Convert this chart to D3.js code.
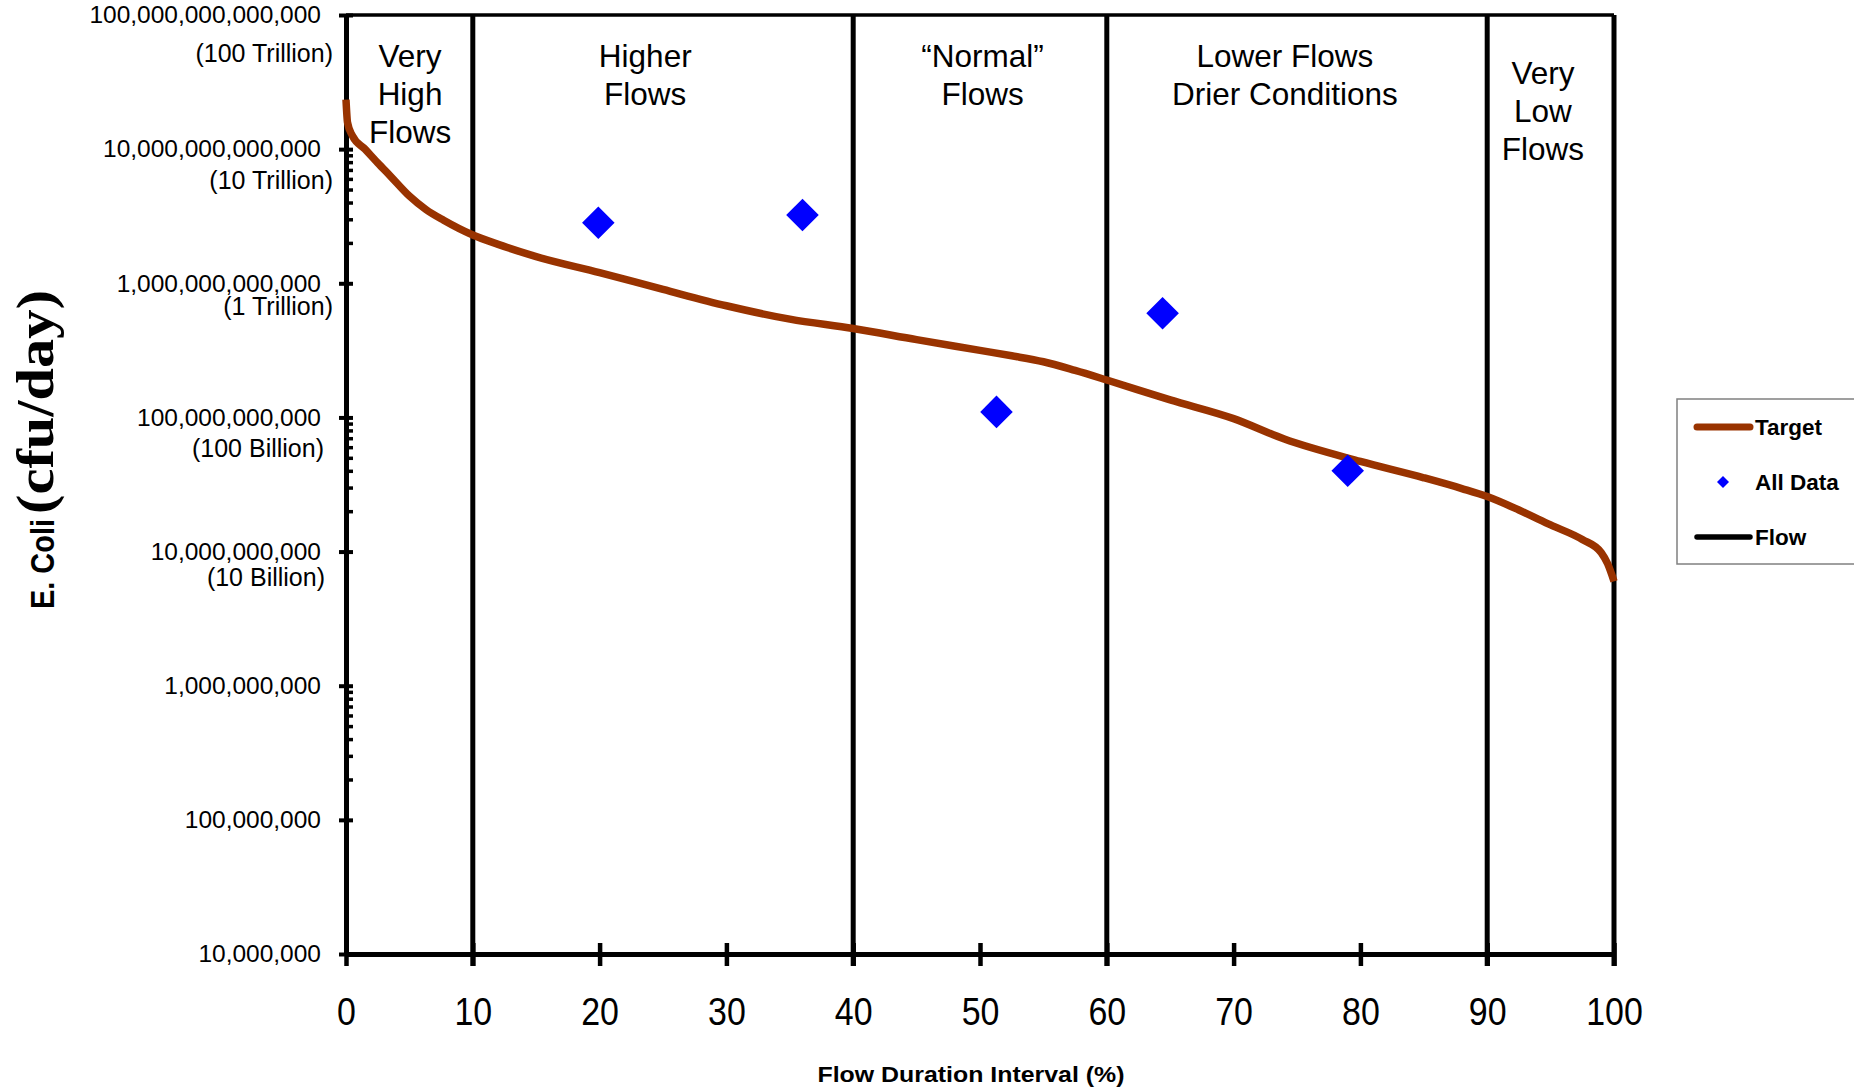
<!DOCTYPE html>
<html><head><meta charset="utf-8">
<script src="https://cdn.jsdelivr.net/npm/d3@7"></script>
<style>body{margin:0;background:#fff}svg{display:block}</style>
</head><body><svg id="c" width="1854" height="1088"></svg>
<script>
// ---- data ----
const flowPct    = [0, 0.12, 0.5, 1.5, 2.5, 3.5, 5, 6.3, 7.7, 10, 12, 15, 20, 25, 30, 35, 40, 45, 50, 52.5, 55, 57.5, 60, 65, 70, 74, 80, 85, 88, 90, 92.5, 95, 97.5, 99, 99.5, 100];
const targetLoad = [2.34e13, 1.58e13, 1.26e13, 1.0e13, 7.9e12, 6.3e12, 4.47e12, 3.55e12, 2.95e12, 2.29e12, 1.95e12, 1.58e12, 1.2e12, 9.0e11, 6.8e11, 5.4e11, 4.6e11, 3.8e11, 3.16e11, 2.88e11, 2.6e11, 2.24e11, 1.9e11, 1.35e11, 9.8e10, 6.9e10, 4.7e10, 3.55e10, 2.95e10, 2.57e10, 2.04e10, 1.58e10, 1.23e10, 9.8e9, 8.1e9, 6.0e9];
const samplePct  = [19.9, 36.0, 51.3, 64.4, 79.0];
const sampleLoad = [2.83e12, 3.23e12, 1.1e11, 5.97e11, 4.0e10];
const zoneBounds = [10, 40, 60, 90, 100];
const zoneNames  = [["Very", "High", "Flows"], ["Higher", "Flows"], ["\u201CNormal\u201D", "Flows"], ["Lower Flows", "Drier Conditions"], ["Very", "Low", "Flows"]];
const xTicks = [0, 10, 20, 30, 40, 50, 60, 70, 80, 90, 100];
const yTicks = [1e7, 1e8, 1e9, 1e10, 1e11, 1e12, 1e13, 1e14];
const yTickLabels = ["10,000,000", "100,000,000", "1,000,000,000", "10,000,000,000", "100,000,000,000", "1,000,000,000,000", "10,000,000,000,000", "100,000,000,000,000"];
const ySubLabels  = ["", "", "", "(10 Billion)", "(100 Billion)", "(1 Trillion)", "(10 Trillion)", "(100 Trillion)"];
const minorDecades = [1e8, 1e10, 1e12];
const legendItems = ["Target", "All Data", "Flow"];
const xTitle = "Flow Duration Interval (%)";

// ---- layout ----
const L = 346, R = 1614, T = 15, B = 954;
const BROWN = "#993300", BLUE = "#0000ff";
const SANS = "'Liberation Sans', Arial, Helvetica, sans-serif";
const SERIF = "'Liberation Serif', 'Times New Roman', serif";
const zoneLabelX = [5.05, 23.6, 50.2, 74.05, 94.4];
const zoneLabelTop = [67, 67, 67, 67, 84];

const svg = d3.select("#c");
const x = d3.scaleLinear().domain([0, 100]).range([L, R]);
const y = d3.scaleLog().domain([1e7, 1e14]).range([B, T]);

// top border
svg.append("line").attr("x1", L).attr("x2", R).attr("y1", T).attr("y2", T)
  .attr("stroke", "#000").attr("stroke-width", 3.5);

// minor y ticks
const minorVals = [];
minorDecades.forEach(d => { for (let k = 2; k <= 9; k++) minorVals.push(k * d); });
svg.append("g").attr("transform", `translate(${L},0)`)
  .call(d3.axisLeft(y).tickValues(minorVals).tickFormat("").tickSizeInner(-7).tickSizeOuter(0))
  .call(g => g.select(".domain").remove())
  .call(g => g.selectAll("line").attr("stroke", "#000").attr("stroke-width", 3.5));

// y axis
const gy = svg.append("g").attr("transform", `translate(${L},0)`)
  .call(d3.axisLeft(y).tickValues(yTicks).tickFormat((d, i) => yTickLabels[i]).tickSize(7).tickSizeOuter(0).tickPadding(18));
gy.select(".domain").attr("stroke", "#000").attr("stroke-width", 5);
gy.selectAll(".tick line").attr("x1", 7).attr("stroke-width", 4);
gy.selectAll(".tick text").attr("font-family", SANS).attr("font-size", 24.5).attr("fill", "#000");
const subDy = {"(100 Trillion)": 38, "(10 Trillion)": 31, "(1 Trillion)": 23, "(100 Billion)": 31, "(10 Billion)": 26};
const subRight = {"(100 Trillion)": 333, "(10 Trillion)": 333, "(1 Trillion)": 333, "(100 Billion)": 324, "(10 Billion)": 325};
yTicks.forEach((v, i) => {
  const s = ySubLabels[i];
  if (!s) return;
  svg.append("text").attr("x", subRight[s]).attr("y", y(v) + subDy[s]).attr("dy", "0.35em")
    .attr("text-anchor", "end").attr("font-family", SANS).attr("font-size", 25).text(s);
});

// x axis
const gx = svg.append("g").attr("transform", `translate(0,${B})`)
  .call(d3.axisBottom(x).tickValues(xTicks).tickSize(12).tickSizeOuter(0).tickPadding(31));
gx.select(".domain").attr("stroke", "#000").attr("stroke-width", 5);
gx.selectAll(".tick line").attr("y1", -11).attr("stroke-width", 4.5);
gx.selectAll(".tick text").attr("font-family", SANS).attr("font-size", 39).attr("fill", "#000")
  .attr("transform", "scale(0.87,1)");

// zone lines (Flow)
svg.append("g").selectAll("line").data(zoneBounds).join("line")
  .attr("x1", d => x(d)).attr("x2", d => x(d)).attr("y1", T).attr("y2", B + 12)
  .attr("stroke", "#000").attr("stroke-width", 5);

// zone labels
zoneNames.forEach((lines, i) => {
  const t = svg.append("text").attr("text-anchor", "middle").attr("font-family", SANS).attr("font-size", 31.5);
  lines.forEach((ln, j) => t.append("tspan").attr("x", x(zoneLabelX[i])).attr("y", zoneLabelTop[i] + j * 38).text(ln));
});

// target curve
const line = d3.line().x((d, i) => x(flowPct[i])).y(d => y(d)).curve(d3.curveMonotoneX);
svg.append("path").attr("d", line(targetLoad)).attr("fill", "none")
  .attr("stroke", BROWN).attr("stroke-width", 7.5).attr("stroke-linejoin", "round");

// samples
svg.append("g").selectAll("path").data(sampleLoad).join("path")
  .attr("d", d3.symbol().type(d3.symbolSquare).size(23 * 23)())
  .attr("transform", (d, i) => `translate(${x(samplePct[i])},${y(d)}) rotate(45)`)
  .attr("fill", BLUE);

// y axis title
svg.append("text").attr("transform", "translate(54,609) rotate(-90)")
  .attr("font-family", SANS).attr("font-weight", "bold").attr("font-size", 33)
  .attr("textLength", 90).attr("lengthAdjust", "spacingAndGlyphs").text("E. Coli");
svg.append("text").attr("transform", "translate(53,514) rotate(-90)")
  .attr("font-family", SERIF).attr("font-weight", "bold").attr("font-size", 52)
  .attr("textLength", 224).attr("lengthAdjust", "spacingAndGlyphs").text("(cfu/day)");

// x axis title
svg.append("text").attr("x", 971).attr("y", 1082).attr("text-anchor", "middle")
  .attr("font-family", SANS).attr("font-weight", "bold").attr("font-size", 22)
  .attr("textLength", 307).attr("lengthAdjust", "spacingAndGlyphs").text(xTitle);

// legend
const lg = svg.append("g");
lg.append("rect").attr("x", 1677).attr("y", 399).attr("width", 260).attr("height", 165)
  .attr("fill", "#fff").attr("stroke", "#808080").attr("stroke-width", 1.5);
const ly = [427, 482, 537];
lg.append("line").attr("x1", 1697).attr("x2", 1750).attr("y1", ly[0]).attr("y2", ly[0])
  .attr("stroke", BROWN).attr("stroke-width", 7).attr("stroke-linecap", "round");
lg.append("path").attr("d", d3.symbol().type(d3.symbolSquare).size(8.5 * 8.5)())
  .attr("transform", `translate(1723,${ly[1]}) rotate(45)`).attr("fill", BLUE);
lg.append("line").attr("x1", 1697).attr("x2", 1750).attr("y1", ly[2]).attr("y2", ly[2])
  .attr("stroke", "#000").attr("stroke-width", 5.5).attr("stroke-linecap", "round");
legendItems.forEach((s, i) => {
  lg.append("text").attr("x", 1755).attr("y", ly[i]).attr("dy", "0.36em")
    .attr("font-family", SANS).attr("font-weight", "bold").attr("font-size", 22.5).text(s);
});
</script></body></html>
